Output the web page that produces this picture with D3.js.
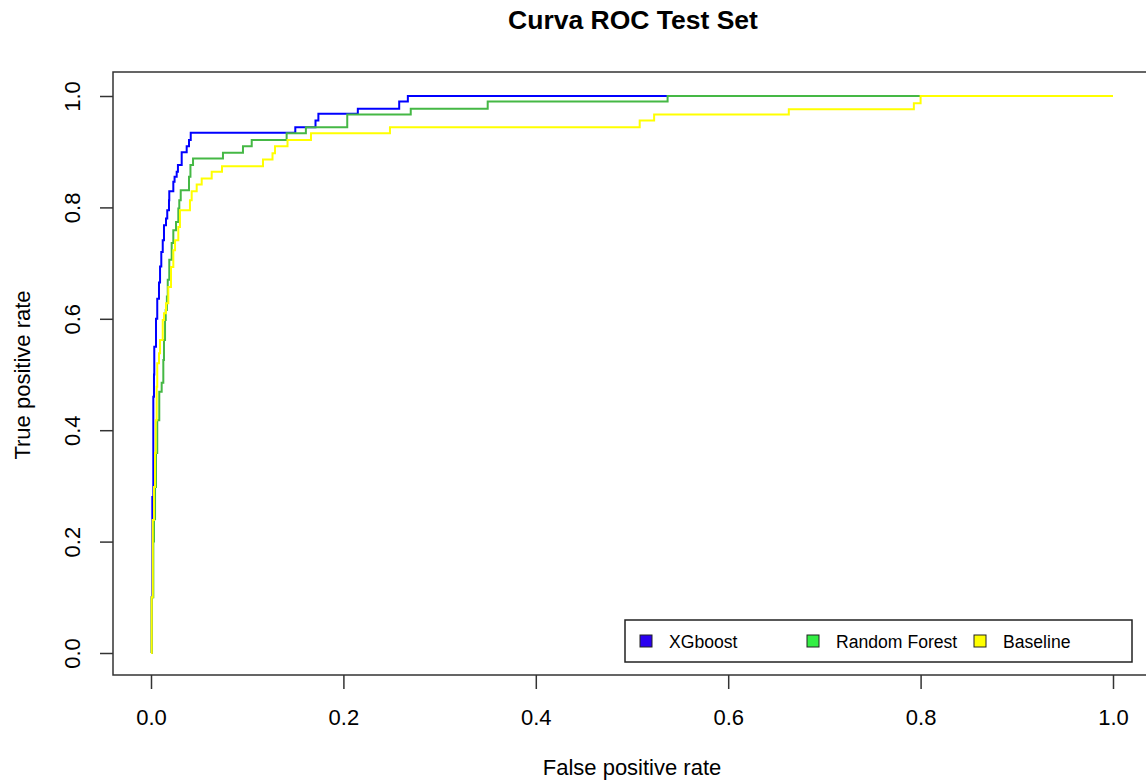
<!DOCTYPE html>
<html>
<head>
<meta charset="utf-8">
<script src="https://cdn.jsdelivr.net/npm/d3@7"></script>
<style>
  body { margin: 0; background: #fff; }
  svg text { font-family: "Liberation Sans", Arial, Helvetica, sans-serif; fill: #000; }
</style>
</head>
<body>
<svg id="chart" width="1146" height="782"></svg>
<script>
// ROC points: at each fpr the tpr steps up to the given value
var xgbFpr = [0, 0.0007, 0.0014, 0.0024, 0.0031, 0.0034, 0.0052, 0.0065, 0.0083, 0.0094, 0.0107, 0.0122, 0.0135, 0.0156, 0.0169, 0.0187, 0.019, 0.0232, 0.0245, 0.0267, 0.028, 0.0319, 0.0371, 0.0395, 0.0413, 0.150, 0.171, 0.174, 0.215, 0.258, 0.267, 1.0];
var xgbTpr = [0, 0.10, 0.28, 0.46, 0.50, 0.55, 0.60, 0.636, 0.665, 0.694, 0.72, 0.741, 0.768, 0.78, 0.795, 0.813, 0.829, 0.846, 0.855, 0.864, 0.876, 0.899, 0.91, 0.921, 0.934, 0.944, 0.956, 0.968, 0.977, 0.990, 1.0, 1.0];

var rfFpr = [0, 0.0007, 0.0024, 0.0031, 0.0042, 0.0052, 0.0065, 0.0086, 0.0111, 0.0128, 0.0135, 0.0146, 0.0153, 0.0165, 0.0174, 0.019, 0.0215, 0.0232, 0.026, 0.0284, 0.0294, 0.0309, 0.0395, 0.041, 0.0437, 0.0748, 0.0956, 0.1047, 0.141, 0.161, 0.204, 0.270, 0.350, 0.537, 1.0];
var rfTpr = [0, 0.10, 0.20, 0.24, 0.298, 0.359, 0.418, 0.469, 0.485, 0.526, 0.562, 0.598, 0.616, 0.64, 0.670, 0.706, 0.736, 0.759, 0.774, 0.798, 0.813, 0.831, 0.855, 0.876, 0.888, 0.898, 0.910, 0.921, 0.933, 0.944, 0.967, 0.977, 0.990, 1.0, 1.0];

var baseFpr = [0, 0.0007, 0.0018, 0.0031, 0.0042, 0.0049, 0.0059, 0.0065, 0.0083, 0.0094, 0.0122, 0.0135, 0.0156, 0.018, 0.0208, 0.0232, 0.025, 0.0284, 0.0301, 0.0405, 0.0423, 0.0475, 0.0527, 0.0631, 0.0738, 0.1164, 0.1263, 0.1289, 0.1419, 0.1663, 0.2484, 0.508, 0.523, 0.663, 0.793, 0.80, 1.0];
var baseTpr = [0, 0.10, 0.239, 0.298, 0.359, 0.418, 0.478, 0.52, 0.538, 0.562, 0.598, 0.610, 0.628, 0.657, 0.693, 0.723, 0.741, 0.765, 0.795, 0.813, 0.829, 0.841, 0.852, 0.864, 0.874, 0.886, 0.897, 0.910, 0.921, 0.933, 0.944, 0.956, 0.967, 0.976, 0.987, 1.0, 1.0];

var modelNames = ["XGboost", "Random Forest", "Baseline"];
var xTicks = [0, 0.2, 0.4, 0.6, 0.8, 1.0];
var yTicks = [0, 0.2, 0.4, 0.6, 0.8, 1.0];

var lineColors = ["#0000ff", "#45b845", "#ffff00"];
var keyColors = ["#2a00f0", "#33ee44", "#ffff00"];

var svg = d3.select("#chart");

var x = d3.scaleLinear().domain([0, 1]).range([151, 1113]);
var y = d3.scaleLinear().domain([0, 1]).range([653, 96]);

var series = [
  { name: modelNames[0], fpr: xgbFpr, tpr: xgbTpr },
  { name: modelNames[1], fpr: rfFpr, tpr: rfTpr },
  { name: modelNames[2], fpr: baseFpr, tpr: baseTpr }
];

var line = d3.line()
    .x(function(d) { return x(d[0]); })
    .y(function(d) { return y(d[1]); })
    .curve(d3.curveStepAfter);

// curves (drawn in order, baseline last on top)
svg.selectAll("path.roc")
    .data(series)
  .enter().append("path")
    .attr("class", "roc")
    .attr("fill", "none")
    .attr("stroke", function(d, i) { return lineColors[i]; })
    .attr("stroke-width", 2)
    .attr("d", function(d) { return line(d.fpr.map(function(f, i) { return [f, d.tpr[i]]; })); });

// plot box, right edge runs off the picture
svg.append("rect")
    .attr("x", 113).attr("y", 72)
    .attr("width", 1060).attr("height", 603)
    .attr("fill", "none")
    .attr("stroke", "#333")
    .attr("stroke-width", 1.5);

// axes
var xAxis = svg.append("g")
    .attr("transform", "translate(0,675)")
    .call(d3.axisBottom(x).tickValues(xTicks).tickSize(14).tickFormat(d3.format(".1f")));
xAxis.select(".domain").remove();
xAxis.selectAll("line").attr("stroke", "#333").attr("stroke-width", 1.5);
xAxis.selectAll("text")
    .attr("y", 50).attr("dy", 0)
    .style("font-size", "22px")
    .style("font-family", "Liberation Sans, Arial, sans-serif")
    .attr("fill", "#000");

var yAxis = svg.append("g")
    .attr("transform", "translate(113,0)")
    .call(d3.axisLeft(y).tickValues(yTicks).tickSize(13).tickFormat(d3.format(".1f")));
yAxis.select(".domain").remove();
yAxis.selectAll("line").attr("stroke", "#333").attr("stroke-width", 1.5);
yAxis.selectAll("text")
    .attr("x", null).attr("dy", 0)
    .attr("text-anchor", "middle")
    .attr("transform", "translate(-33,0) rotate(-90)")
    .style("font-size", "22px")
    .style("font-family", "Liberation Sans, Arial, sans-serif")
    .attr("fill", "#000");

// titles
svg.append("text")
    .attr("x", 633).attr("y", 29)
    .attr("text-anchor", "middle")
    .style("font-size", "26.5px")
    .style("font-weight", "bold")
    .text("Curva ROC Test Set");

svg.append("text")
    .attr("x", 632).attr("y", 775)
    .attr("text-anchor", "middle")
    .style("font-size", "22px")
    .text("False positive rate");

svg.append("text")
    .attr("transform", "translate(30,375) rotate(-90)")
    .attr("text-anchor", "middle")
    .style("font-size", "22px")
    .text("True positive rate");

// legend
var legend = svg.append("g");
legend.append("rect")
    .attr("x", 625).attr("y", 620)
    .attr("width", 507).attr("height", 42)
    .attr("fill", "#fff")
    .attr("stroke", "#222")
    .attr("stroke-width", 1.5);

var keyX = [640, 807, 974];
var item = legend.selectAll("g.item")
    .data(modelNames)
  .enter().append("g")
    .attr("class", "item")
    .attr("transform", function(d, i) { return "translate(" + keyX[i] + ",641)"; });

item.append("rect")
    .attr("x", 0).attr("y", -6)
    .attr("width", 12).attr("height", 12)
    .attr("fill", function(d, i) { return keyColors[i]; })
    .attr("stroke", "#222")
    .attr("stroke-width", 1);

item.append("text")
    .attr("x", 29).attr("y", 6.5)
    .style("font-size", "17.6px")
    .text(function(d) { return d; });
</script>
</body>
</html>
